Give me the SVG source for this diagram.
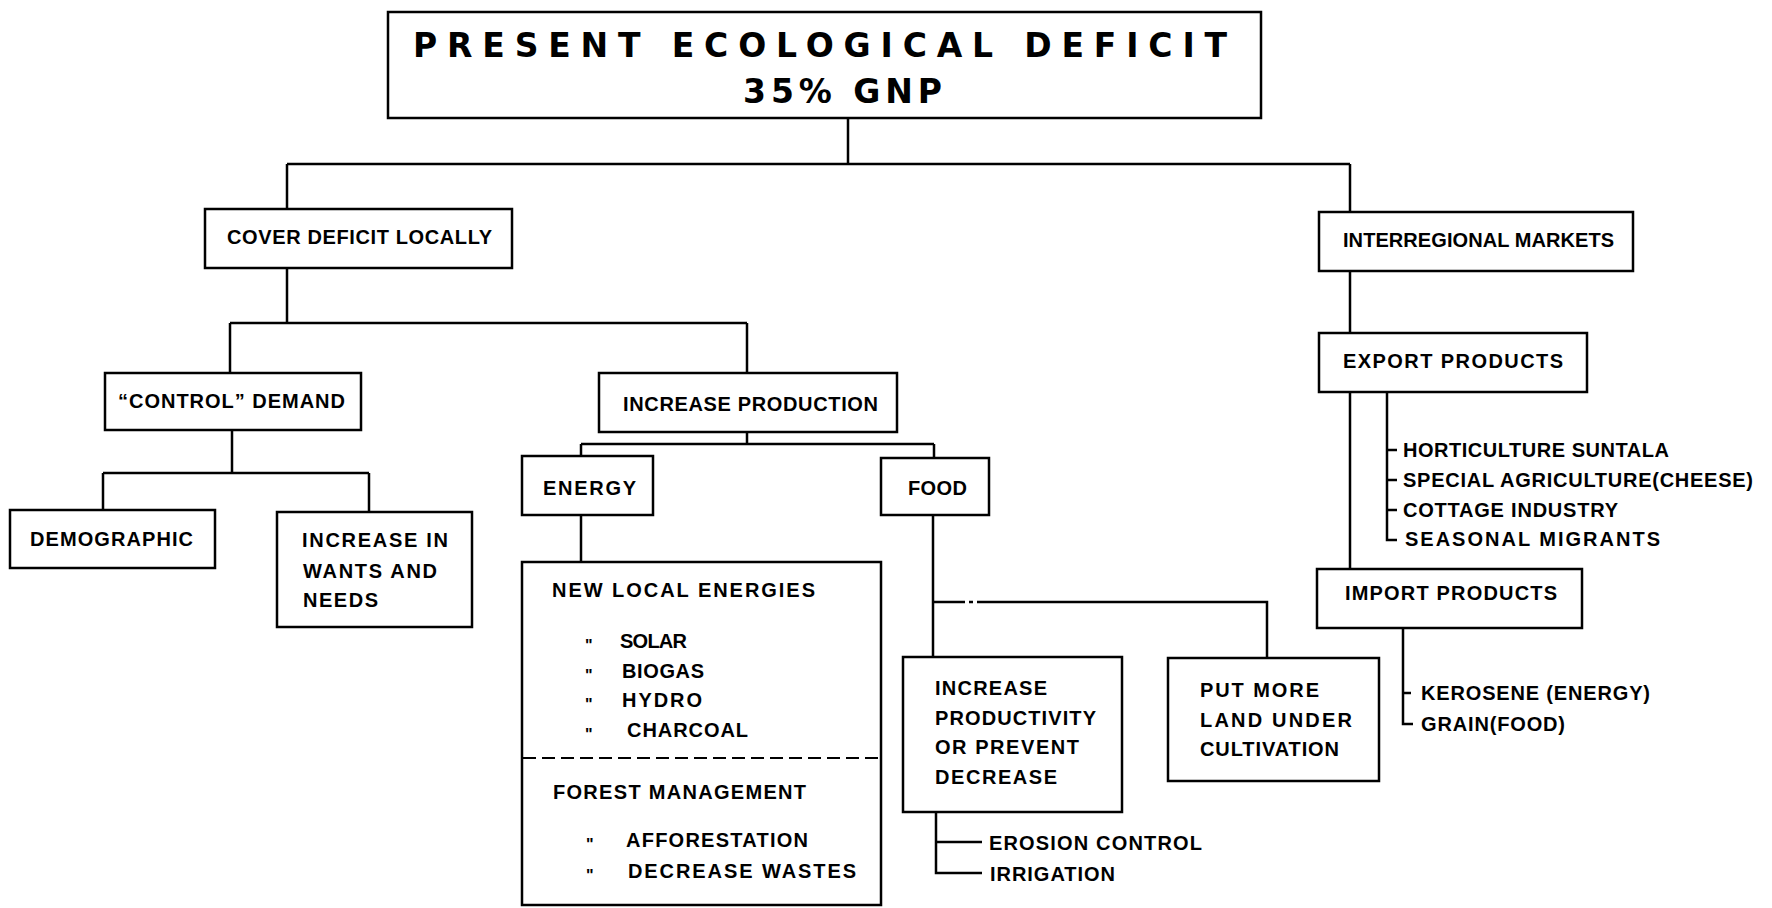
<svg xmlns="http://www.w3.org/2000/svg" width="1772" height="908" viewBox="0 0 1772 908">
  <style>
    .box { fill: #fff; stroke: #000; stroke-width: 2.5; }
    .ln { fill: none; stroke: #000; stroke-width: 2.5; }
    .dash { fill: none; stroke: #000; stroke-width: 2.2; stroke-dasharray: 13 6; }
    text { font-family: "Liberation Sans", Arial, sans-serif; font-weight: bold; fill: #000; }
    .t { font-size: 20px; }
    .big { font-family: "DejaVu Sans", "Liberation Sans", sans-serif; font-size: 33px; }
    .dit { font-size: 16px; }
  </style>
  <rect x="0" y="0" width="1772" height="908" fill="#fff"/>

  <!-- connectors -->
  <g id="connectors">
    <!-- root split -->
    <path class="ln" d="M848 118 V164 M287 164 H1350 M287 164 V209 M1350 164 V212"/>
    <!-- local cover split -->
    <path class="ln" d="M287 268 V323 M230 323 H747 M230 323 V373 M747 323 V373"/>
    <!-- demand split -->
    <path class="ln" d="M232 430 V473 M103 473 H369 M103 473 V510 M369 473 V512"/>
    <!-- production split -->
    <path class="ln" d="M747 432 V444 M581 444 H934 M581 444 V456 M934 444 V458"/>
    <!-- energy to local energies -->
    <path class="ln" d="M581 515 V562"/>
    <!-- food branches -->
    <path class="ln" d="M933 515 V657 M933 602 H965 M969 602 H973 M977 602 H1267 V658"/>
    <!-- productivity measures -->
    <path class="ln" d="M936 812 V873 H982 M936 842 H982"/>
    <!-- markets column -->
    <path class="ln" d="M1350 271 V333 M1350 392 V568"/>
    <!-- export list -->
    <path class="ln" d="M1387 392 V540 H1397 M1387 450 H1397 M1387 480 H1397 M1387 510 H1397"/>
    <!-- import list -->
    <path class="ln" d="M1403 628 V724 H1413 M1403 693 H1411"/>
  </g>

  <g id="n-root">
    <rect class="box" x="388" y="12" width="873" height="106"/>
    <text class="big" x="413" y="57" textLength="814" lengthAdjust="spacing">PRESENT ECOLOGICAL DEFICIT</text>
    <text class="big" x="743" y="103" textLength="199" lengthAdjust="spacing">35% GNP</text>
  </g>

  <g id="n-cover">
    <rect class="box" x="205" y="209" width="307" height="59"/>
    <text class="t" x="227" y="244" textLength="265" lengthAdjust="spacing">COVER DEFICIT LOCALLY</text>
  </g>

  <g id="n-markets">
    <rect class="box" x="1319" y="212" width="314" height="59"/>
    <text class="t" x="1343" y="247" textLength="271" lengthAdjust="spacing">INTERREGIONAL MARKETS</text>
  </g>

  <g id="n-control">
    <rect class="box" x="105" y="373" width="256" height="57"/>
    <text class="t" x="118" y="408" textLength="227" lengthAdjust="spacing">“CONTROL” DEMAND</text>
  </g>

  <g id="n-production">
    <rect class="box" x="599" y="373" width="298" height="59"/>
    <text class="t" x="623" y="411" textLength="255" lengthAdjust="spacing">INCREASE PRODUCTION</text>
  </g>

  <g id="n-demographic">
    <rect class="box" x="10" y="510" width="205" height="58"/>
    <text class="t" x="30" y="546" textLength="163" lengthAdjust="spacing">DEMOGRAPHIC</text>
  </g>

  <g id="n-wants">
    <rect class="box" x="277" y="512" width="195" height="115"/>
    <text class="t" x="302" y="547" textLength="146" lengthAdjust="spacing">INCREASE IN</text>
    <text class="t" x="303" y="578" textLength="134" lengthAdjust="spacing">WANTS AND</text>
    <text class="t" x="303" y="607" textLength="75" lengthAdjust="spacing">NEEDS</text>
  </g>

  <g id="n-energy">
    <rect class="box" x="522" y="456" width="131" height="59"/>
    <text class="t" x="543" y="495" textLength="93" lengthAdjust="spacing">ENERGY</text>
  </g>

  <g id="n-food">
    <rect class="box" x="881" y="458" width="108" height="57"/>
    <text class="t" x="908" y="495" textLength="59" lengthAdjust="spacing">FOOD</text>
  </g>

  <g id="n-local-energies">
    <rect class="box" x="522" y="562" width="359" height="343"/>
    <line class="dash" x1="523" y1="758" x2="880" y2="758"/>
    <text class="t" x="552" y="597" textLength="263" lengthAdjust="spacing">NEW LOCAL ENERGIES</text>
    <text class="dit" x="585" y="651">"</text>
    <text class="t" x="620" y="648" textLength="67" lengthAdjust="spacing">SOLAR</text>
    <text class="dit" x="585" y="681">"</text>
    <text class="t" x="622" y="678" textLength="82" lengthAdjust="spacing">BIOGAS</text>
    <text class="dit" x="585" y="710">"</text>
    <text class="t" x="622" y="707" textLength="80" lengthAdjust="spacing">HYDRO</text>
    <text class="dit" x="585" y="740">"</text>
    <text class="t" x="627" y="737" textLength="121" lengthAdjust="spacing">CHARCOAL</text>
    <text class="t" x="553" y="799" textLength="253" lengthAdjust="spacing">FOREST MANAGEMENT</text>
    <text class="dit" x="586" y="850">"</text>
    <text class="t" x="626" y="847" textLength="182" lengthAdjust="spacing">AFFORESTATION</text>
    <text class="dit" x="586" y="881">"</text>
    <text class="t" x="628" y="878" textLength="228" lengthAdjust="spacing">DECREASE WASTES</text>
  </g>

  <g id="n-productivity">
    <rect class="box" x="903" y="657" width="219" height="155"/>
    <text class="t" x="935" y="695" textLength="112" lengthAdjust="spacing">INCREASE</text>
    <text class="t" x="935" y="725" textLength="161" lengthAdjust="spacing">PRODUCTIVITY</text>
    <text class="t" x="935" y="754" textLength="144" lengthAdjust="spacing">OR PREVENT</text>
    <text class="t" x="935" y="784" textLength="122" lengthAdjust="spacing">DECREASE</text>
  </g>

  <g id="n-measures">
    <text class="t" x="989" y="850" textLength="213" lengthAdjust="spacing">EROSION CONTROL</text>
    <text class="t" x="990" y="881" textLength="125" lengthAdjust="spacing">IRRIGATION</text>
  </g>

  <g id="n-land">
    <rect class="box" x="1168" y="658" width="211" height="123"/>
    <text class="t" x="1200" y="697" textLength="119" lengthAdjust="spacing">PUT MORE</text>
    <text class="t" x="1200" y="727" textLength="152" lengthAdjust="spacing">LAND UNDER</text>
    <text class="t" x="1200" y="756" textLength="139" lengthAdjust="spacing">CULTIVATION</text>
  </g>

  <g id="n-export">
    <rect class="box" x="1319" y="333" width="268" height="59"/>
    <text class="t" x="1343" y="368" textLength="220" lengthAdjust="spacing">EXPORT PRODUCTS</text>
  </g>

  <g id="n-export-items">
    <text class="t" x="1403" y="457" textLength="266" lengthAdjust="spacing">HORTICULTURE SUNTALA</text>
    <text class="t" x="1403" y="487" textLength="350" lengthAdjust="spacing">SPECIAL AGRICULTURE(CHEESE)</text>
    <text class="t" x="1403" y="517" textLength="215" lengthAdjust="spacing">COTTAGE INDUSTRY</text>
    <text class="t" x="1405" y="546" textLength="255" lengthAdjust="spacing">SEASONAL MIGRANTS</text>
  </g>

  <g id="n-import">
    <rect class="box" x="1317" y="569" width="265" height="59"/>
    <text class="t" x="1345" y="600" textLength="212" lengthAdjust="spacing">IMPORT PRODUCTS</text>
  </g>

  <g id="n-import-items">
    <text class="t" x="1421" y="700" textLength="229" lengthAdjust="spacing">KEROSENE (ENERGY)</text>
    <text class="t" x="1421" y="731" textLength="144" lengthAdjust="spacing">GRAIN(FOOD)</text>
  </g>
</svg>
